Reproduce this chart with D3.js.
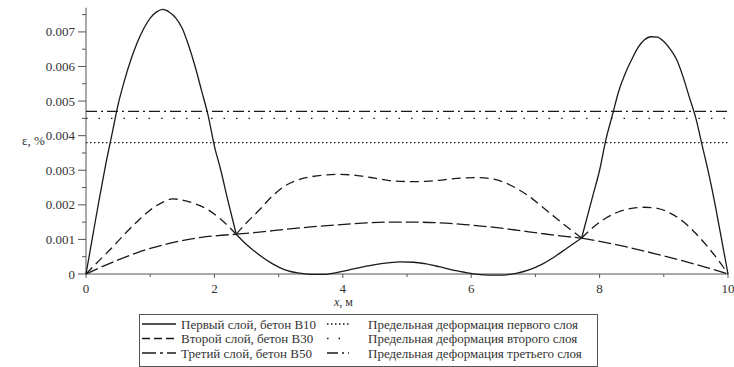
<!DOCTYPE html>
<html>
<head>
<meta charset="utf-8">
<script src="https://cdn.jsdelivr.net/npm/d3@7"></script>
<style>
  html, body { margin: 0; padding: 0; background: #fff; }
  svg text { font-family: "Liberation Serif", "Times New Roman", Tinos, "DejaVu Serif", serif; }
</style>
</head>
<body>
<svg id="chart" width="734" height="367"></svg>
<script>
// Strain along the beam, x in metres, strain in %
const joints = [2.34, 7.72];

const xLayer1 = [0, 0.1, 0.2, 0.3, 0.4, 0.5, 0.6, 0.7, 0.8, 0.9, 1.0, 1.1, 1.2, 1.3, 1.4, 1.5, 1.6, 1.7, 1.8, 1.9, 2.0, 2.1, 2.2, 2.34,
  2.5, 2.7, 2.9, 3.1, 3.3, 3.5, 3.7, 3.9, 4.1, 4.3, 4.5, 4.7, 4.9, 5.1, 5.3, 5.5, 5.7, 5.9, 6.1, 6.3, 6.5, 6.7, 6.9, 7.1, 7.3, 7.5, 7.72,
  7.8, 7.9, 8.0, 8.1, 8.2, 8.3, 8.4, 8.5, 8.6, 8.7, 8.8, 8.9, 9.0, 9.1, 9.2, 9.3, 9.4, 9.5, 9.6, 9.7, 9.8, 9.9, 10];
const yLayer1 = [0, 0.00105, 0.0021, 0.0031, 0.0040, 0.0049, 0.0056, 0.0062, 0.0067, 0.0071, 0.0074, 0.00758, 0.00765, 0.00757, 0.0074, 0.0071, 0.0066, 0.0060, 0.0053, 0.0046, 0.0037, 0.0030, 0.0022, 0.00115,
  0.00085, 0.00055, 0.0003, 0.00012, 0.00003, -0.00001, -0.00001, 0.00004, 0.00012, 0.0002, 0.00027, 0.00032, 0.00035, 0.00034, 0.00029, 0.00021, 0.00012, 0.00005, -0.00001, -0.00003, -0.00003, 0.00002, 0.00012, 0.00028, 0.0005, 0.00076, 0.00104,
  0.0016, 0.0023, 0.0030, 0.0039, 0.0046, 0.0053, 0.0058, 0.0062, 0.00655, 0.00677, 0.00686, 0.00685, 0.00672, 0.0065, 0.0062, 0.0057, 0.0051, 0.0045, 0.0037, 0.0029, 0.0020, 0.0010, 0];

const xLayer2 = [0, 0.2, 0.4, 0.6, 0.8, 1.0, 1.2, 1.35, 1.5, 1.7, 1.9, 2.1, 2.34,
  2.5, 2.7, 2.9, 3.1, 3.3, 3.5, 3.7, 3.9, 4.1, 4.3, 4.5, 4.7, 4.9, 5.1, 5.3, 5.5, 5.7, 5.9, 6.1, 6.3, 6.5, 6.7, 6.9, 7.1, 7.3, 7.5, 7.72,
  7.9, 8.1, 8.3, 8.5, 8.7, 8.9, 9.1, 9.3, 9.5, 9.7, 9.9, 10];
const yLayer2 = [0, 0.00038, 0.00075, 0.00115, 0.00152, 0.00185, 0.00208, 0.00217, 0.00214, 0.00203, 0.00186, 0.00158, 0.00115,
  0.00148, 0.00185, 0.00225, 0.00255, 0.00272, 0.00281, 0.00286, 0.00288, 0.00287, 0.00283, 0.00277, 0.00271, 0.00268, 0.00267, 0.00268, 0.00271, 0.00275, 0.00278, 0.00279, 0.00276, 0.00266, 0.00248, 0.00225, 0.00195, 0.00165, 0.00135, 0.00104,
  0.00135, 0.00162, 0.0018, 0.0019, 0.00193, 0.0019, 0.00176, 0.00152, 0.00117, 0.00075, 0.00027, 0];

const xLayer3 = [0, 0.2, 0.4, 0.6, 0.8, 1.0, 1.2, 1.4, 1.6, 1.8, 2.0, 2.34,
  2.7, 3.1, 3.5, 3.9, 4.3, 4.7, 5.1, 5.5, 5.9, 6.3, 6.7, 7.1, 7.5, 7.72,
  8.1, 8.5, 8.9, 9.3, 9.7, 10];
const yLayer3 = [0, 0.00017, 0.00033, 0.00048, 0.00062, 0.00074, 0.00084, 0.00093, 0.001, 0.00106, 0.0011, 0.00115,
  0.00121, 0.00129, 0.00136, 0.00142, 0.00147, 0.0015, 0.0015, 0.00148, 0.00143, 0.00136, 0.00127, 0.00117, 0.00108, 0.00104,
  0.00091, 0.00075, 0.00057, 0.00038, 0.00017, 0];

// Ultimate strain of each layer
const limits = [0.0038, 0.0045, 0.0047];

const xTicks = [0, 2, 4, 6, 8, 10];
const yTicks = [0, 0.001, 0.002, 0.003, 0.004, 0.005, 0.006, 0.007];

const curveNames = ["Первый слой, бетон B10", "Второй слой, бетон B30", "Третий слой, бетон B50"];
const limitNames = ["Предельная деформация первого слоя", "Предельная деформация второго слоя", "Предельная деформация третьего слоя"];

const curveDash = ["none", "9,5", "13,4"];
const limitDash = ["1.5,2.5", "1.5,11", "11,4,2,4"];
const ink = "#1a1a1a";
const serif = '"Liberation Serif", "Times New Roman", Tinos, "DejaVu Serif", serif';

const svg = d3.select("#chart");
const x = d3.scaleLinear().domain([0, 10]).range([86, 728]);
const y = d3.scaleLinear().domain([0, 0.0077]).range([274, 7.7]);

// axes
const axisColor = "#555";
const gx = svg.append("g").attr("transform", `translate(0,${y(0)})`);
gx.append("line").attr("x1", x(0)).attr("x2", x(10)).attr("stroke", axisColor);
gx.selectAll("line.minor").data(d3.range(1, 10, 2)).join("line").attr("class", "minor")
  .attr("x1", d => x(d)).attr("x2", d => x(d)).attr("y1", 0).attr("y2", 3).attr("stroke", axisColor);
gx.selectAll("line.major").data(xTicks).join("line").attr("class", "major")
  .attr("x1", d => x(d)).attr("x2", d => x(d)).attr("y1", 0).attr("y2", 4).attr("stroke", axisColor);
gx.selectAll("text").data(xTicks).join("text")
  .attr("x", d => x(d)).attr("y", 19).attr("text-anchor", "middle").attr("font-family", serif)
  .attr("font-size", 13).attr("fill", "#333").text(d => d);

const gy = svg.append("g").attr("transform", `translate(${x(0)},0)`);
gy.append("line").attr("y1", y(0)).attr("y2", y(0.0077)).attr("stroke", axisColor);
gy.selectAll("line.minor").data(d3.range(0.0005, 0.0077, 0.001)).join("line").attr("class", "minor")
  .attr("x1", -4).attr("x2", 0).attr("y1", d => y(d)).attr("y2", d => y(d)).attr("stroke", axisColor);
gy.selectAll("line.major").data(yTicks).join("line").attr("class", "major")
  .attr("x1", -8).attr("x2", 0).attr("y1", d => y(d)).attr("y2", d => y(d)).attr("stroke", axisColor);
gy.selectAll("text").data(yTicks).join("text")
  .attr("x", -11).attr("y", d => y(d) + 4.5).attr("text-anchor", "end").attr("font-family", serif)
  .attr("font-size", 13).attr("fill", "#333").text(d => d === 0 ? "0" : d3.format(".3f")(d));

svg.append("text").attr("x", 22).attr("y", 145).attr("font-family", serif)
  .attr("font-size", 13).attr("fill", "#333").text("ε, %");
const xl = svg.append("text").attr("x", 334).attr("y", 306).attr("font-family", serif)
  .attr("font-size", 12).attr("fill", "#333");
xl.append("tspan").attr("font-style", "italic").text("x");
xl.append("tspan").text(", м");

// limit lines
svg.selectAll("line.limit").data(limits).join("line").attr("class", "limit")
  .attr("x1", x(0)).attr("x2", x(10)).attr("y1", d => y(d)).attr("y2", d => y(d))
  .attr("stroke", ink).attr("stroke-width", 1.3).attr("stroke-dasharray", (d, i) => limitDash[i]);

// strain curves, drawn piecewise between joints
function segments(xs, ys) {
  const cuts = [0, ...joints, 10];
  const out = [];
  for (let k = 0; k < cuts.length - 1; k++) {
    const seg = [];
    xs.forEach((xv, i) => { if (xv >= cuts[k] - 1e-9 && xv <= cuts[k + 1] + 1e-9) seg.push([xv, ys[i]]); });
    out.push(seg);
  }
  return out;
}
const line = d3.line().x(d => x(d[0])).y(d => y(d[1])).curve(d3.curveMonotoneX);
[[xLayer1, yLayer1], [xLayer2, yLayer2], [xLayer3, yLayer3]].forEach(([xs, ys], i) => {
  const g = svg.append("g");
  segments(xs, ys).forEach(seg => {
    g.append("path").attr("d", line(seg)).attr("fill", "none")
      .attr("stroke", ink).attr("stroke-width", 1.3)
      .attr("stroke-dasharray", curveDash[i]);
  });
});

// legend
const lg = svg.append("g");
lg.append("rect").attr("x", 139.5).attr("y", 314.5).attr("width", 458).attr("height", 52)
  .attr("fill", "#fff").attr("stroke", "#555");
const rowY = [324, 338.5, 353];
const legendDash = ["none", "8,4", "14,4,3,4"];
curveNames.forEach((name, i) => {
  lg.append("line").attr("x1", 142).attr("x2", 176).attr("y1", rowY[i]).attr("y2", rowY[i])
    .attr("stroke", ink).attr("stroke-width", 1.3).attr("stroke-dasharray", legendDash[i]);
  lg.append("text").attr("x", 181).attr("y", rowY[i] + 4.5).attr("font-family", serif)
    .attr("font-size", 13).attr("fill", "#333").text(name);
});
limitNames.forEach((name, i) => {
  lg.append("line").attr("x1", 327).attr("x2", 349).attr("y1", rowY[i]).attr("y2", rowY[i])
    .attr("stroke", ink).attr("stroke-width", 1.3).attr("stroke-dasharray", limitDash[i] === "1.5,11" ? "1.5,10" : limitDash[i]);
  lg.append("text").attr("x", 368).attr("y", rowY[i] + 4.5).attr("font-family", serif)
    .attr("font-size", 13).attr("fill", "#333").text(name);
});
</script>
</body>
</html>
